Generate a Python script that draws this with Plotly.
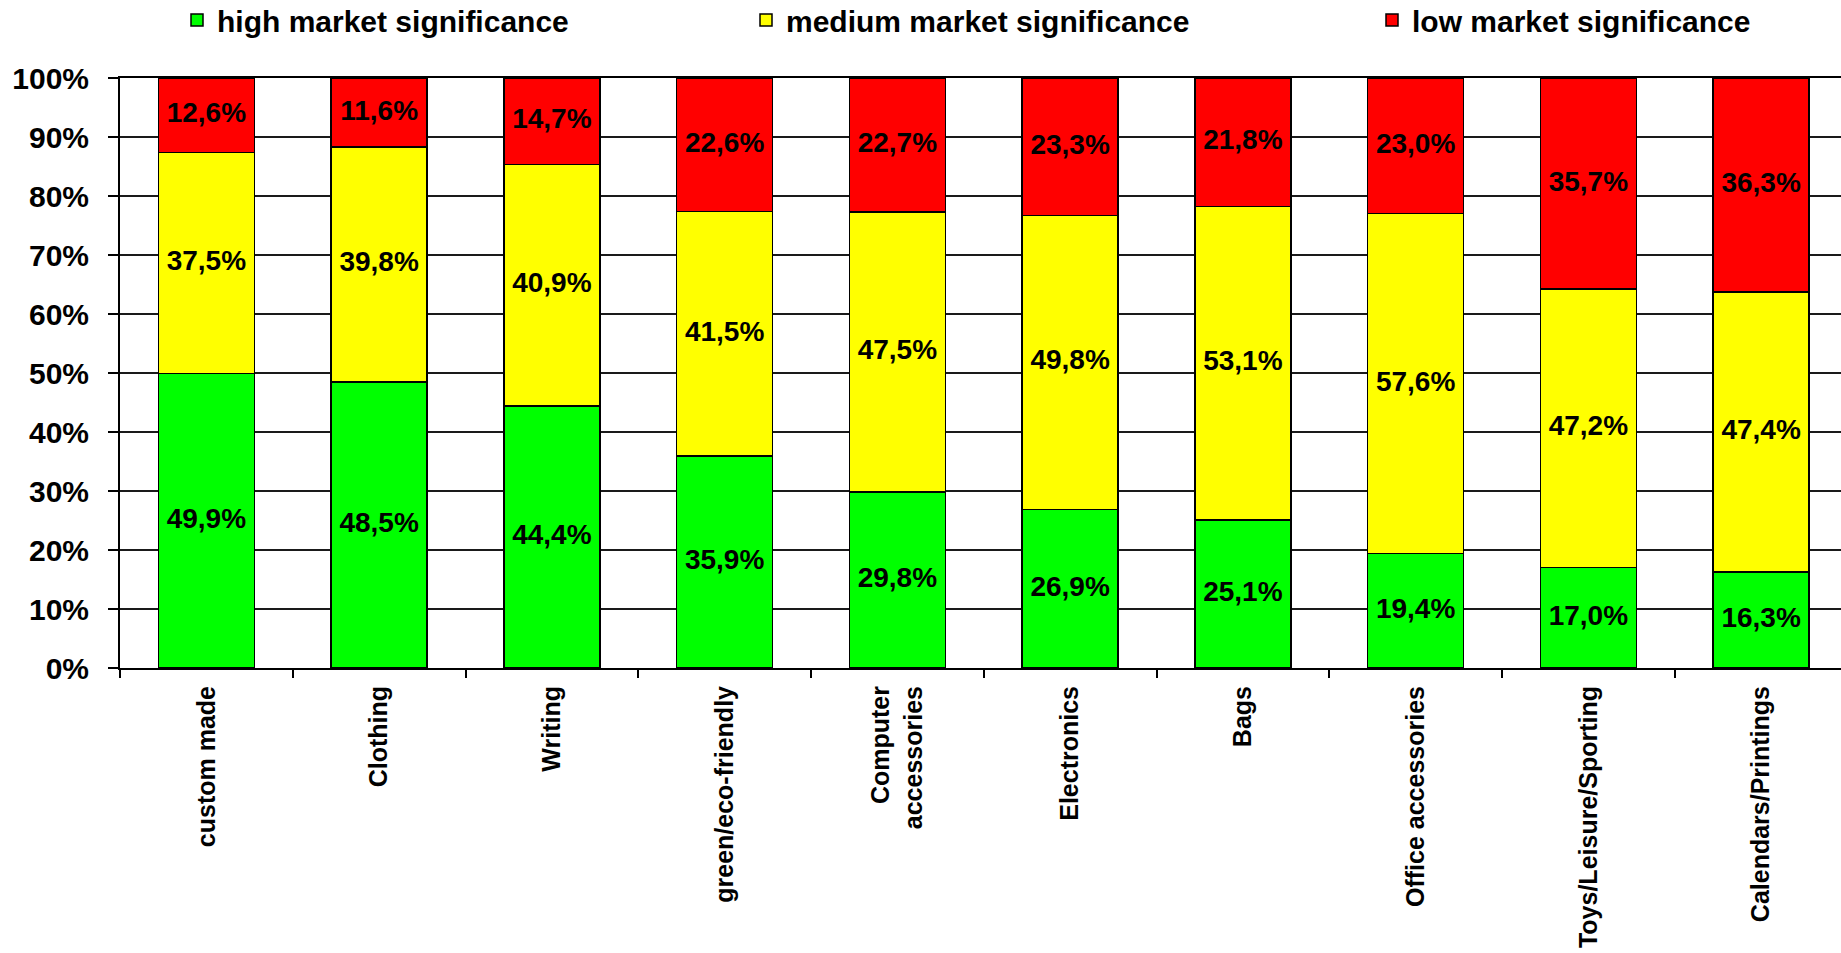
import plotly.graph_objects as go

categories = ["custom made", "Clothing", "Writing", "green/eco-friendly",
              "Computer<br>accessories", "Electronics", "Bags",
              "Office accessories", "Toys/Leisure/Sporting", "Calendars/Printings"]
high = [49.9, 48.5, 44.4, 35.9, 29.8, 26.9, 25.1, 19.4, 17.0, 16.3]
medium = [37.5, 39.8, 40.9, 41.5, 47.5, 49.8, 53.1, 57.6, 47.2, 47.4]
low = [12.6, 11.6, 14.7, 22.6, 22.7, 23.3, 21.8, 23.0, 35.7, 36.3]
series_names = ["high market significance", "medium market significance", "low market significance"]
colors = ["#00FF00", "#FFFF00", "#FF0000"]
y_ticks = [0, 10, 20, 30, 40, 50, 60, 70, 80, 90, 100]
y_ticktext = [f"{v}%" for v in y_ticks]

W, H = 1841, 953
FONT = "Liberation Sans"

def fmt(v):
    return f"{v:.1f}%".replace(".", ",")

fig = go.Figure()
legend_ids = ["legend", "legend2", "legend3"]
all_series = [high, medium, low]
base = [0.0] * len(categories)
for name, vals, col, lg in zip(series_names, all_series, colors, legend_ids):
    fig.add_trace(go.Bar(
        x=categories, y=vals, name=name, legend=lg,
        marker=dict(color=col, line=dict(color="#000000", width=1.5)),
        width=0.556,
        hoverinfo="skip",
    ))
    mids = [b + v / 2 for b, v in zip(base, vals)]
    fig.add_trace(go.Scatter(
        x=categories, y=mids, mode="text",
        text=[fmt(v) for v in vals],
        textposition="middle center",
        textfont=dict(family=FONT, size=28, color="#000000", weight="bold"),
        showlegend=False, hoverinfo="skip", cliponaxis=False,
    ))
    base = [b + v for b, v in zip(base, vals)]

legend_font = dict(family=FONT, size=30, color="#000000", weight="bold")
legend_x = [177, 746, 1372]
legends = {}
for lg, xpx in zip(legend_ids, legend_x):
    legends[lg] = dict(
        x=xpx / W, xref="container", xanchor="left",
        y=1 - 20 / H, yref="container", yanchor="middle",
        font=legend_font, bgcolor="rgba(0,0,0,0)", borderwidth=0,
        orientation="h", itemclick=False, itemdoubleclick=False,
    )

fig.update_layout(
    width=W, height=H,
    barmode="stack",
    plot_bgcolor="#FFFFFF", paper_bgcolor="#FFFFFF",
    margin=dict(l=120, r=0, t=78, b=285, pad=0, autoexpand=False),
    showlegend=True,
    **legends,
)
fig.update_xaxes(
    type="category",
    range=[-0.5, -0.5 + (W - 120) / 172.75],
    tickangle=-90,
    tickfont=dict(family=FONT, size=25, color="#000000", weight="bold"),
    ticks="outside", ticklen=8, tickwidth=1.5, tickcolor="#000000",
    tickson="boundaries",
    showline=True, linecolor="#000000", linewidth=2, mirror=True,
    showgrid=False, zeroline=False,
    automargin=False,
    ticklabelstandoff=6,
)
fig.update_yaxes(
    range=[0, 100],
    tickvals=y_ticks, ticktext=y_ticktext,
    tickfont=dict(family=FONT, size=30, color="#000000", weight="bold"),
    ticks="outside", ticklen=10, tickwidth=1.5, tickcolor="#000000",
    showline=True, linecolor="#000000", linewidth=2,
    showgrid=True, gridcolor="#1a1a1a", gridwidth=1.5,
    zeroline=False,
    automargin=False,
    ticklabelstandoff=13,
)

fig.write_html("out.html")
